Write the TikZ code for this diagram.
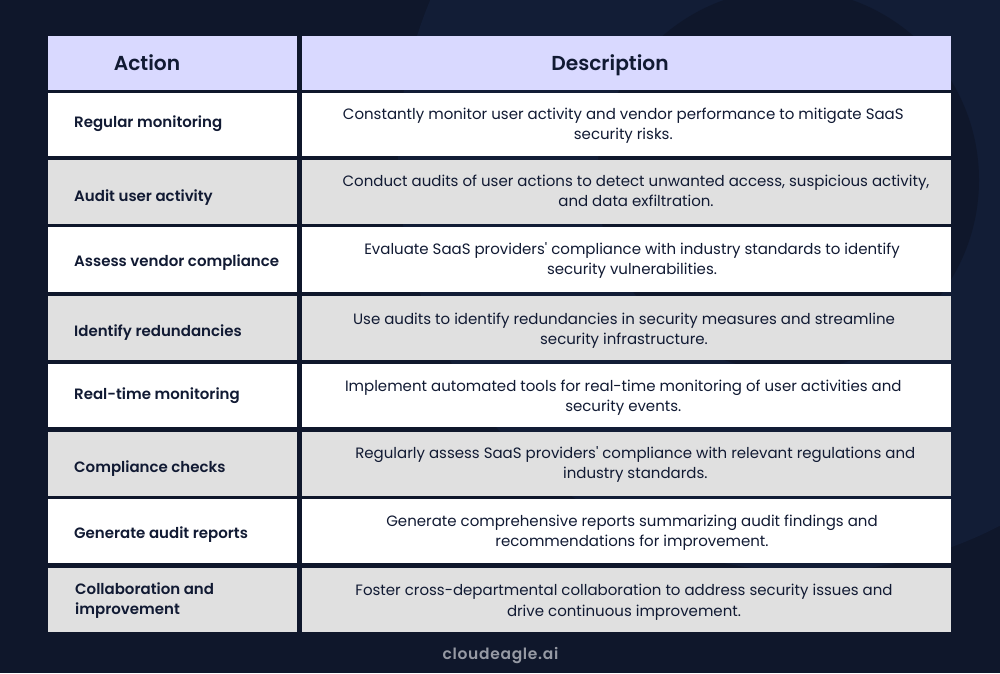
\documentclass[tikz,border=0pt]{standalone}
\usepackage{fontspec}
\setmainfont{Poppins}
\newfontfamily\semifont{Poppins SemiBold}
\newfontfamily\brandfont[LetterSpace=4.5]{Poppins SemiBold}
\usepackage{xcolor}
\definecolor{pagebg}{HTML}{0F172B}
\definecolor{ringbg}{HTML}{121D36}
\definecolor{headbg}{HTML}{D9D9FF}
\definecolor{greybg}{HTML}{E0E0E0}
\definecolor{inkc}{HTML}{111A33}
\definecolor{brandc}{HTML}{969AA4}
\tikzset{
  cellw/.style={fill=white},
  cellg/.style={fill=greybg},
  cellh/.style={fill=headbg},
  evenbox/.style={inner sep=0, execute at begin node=\strut, execute at end node=\strut},
  headtxt/.style={evenbox, text=inkc, font=\semifont\fontsize{20.2}{25}\selectfont, yshift=-2pt},
  acttxt/.style={evenbox, text=inkc, font=\semifont\fontsize{15}{20}\selectfont, anchor=west, align=left, yshift=-1.5pt},
  desctxt/.style={evenbox, text=inkc, font=\fontsize{15}{20.2}\selectfont, align=center, yshift=-3.4pt},
}
\begin{document}
\begin{tikzpicture}[x=1pt,y=-1pt]
\fill[pagebg] (0,0) rectangle (1000,673);
\begin{scope}
\clip (0,0) rectangle (1000,673);
\fill[ringbg] (810,160) circle[radius=412];
\fill[pagebg] (788,180) circle[radius=191];
\end{scope}
% header
\fill[cellh] (48,36) rectangle (297,89.5);
\fill[cellh] (302,36) rectangle (951,89.5);
\node[headtxt] (action) at (147,63) {Action};
\node[headtxt] (description) at (610,63) {Description};
% rows
\foreach \ya/\yb/\st in {92.5/155.5/cellw,160/223.5/cellg,227/291.5/cellw,295.5/360/cellg,364/427/cellw,431.5/495.5/cellg,499/563/cellw,567.5/632/cellg} {
 \fill[\st] (48,\ya) rectangle (297,\yb);
 \fill[\st] (302,\ya) rectangle (951,\yb);
}
\node[acttxt] (act1) at (74,122) {Regular monitoring};
\node[acttxt] (act2) at (74,196) {Audit user activity};
\node[acttxt] (act3) at (74,261) {Assess vendor compliance};
\node[acttxt] (act4) at (74,331) {Identify redundancies};
\node[acttxt] (act5) at (74,394) {Real-time monitoring};
\node[acttxt] (act6) at (74,467) {Compliance checks};
\node[acttxt] (act7) at (74,533) {Generate audit reports};
\node[acttxt] (act8) at (75,600) {Collaboration and\\improvement};
\node[desctxt] (desc1) at (623.3,123) {Constantly monitor user activity and vendor performance to mitigate SaaS\\security risks.};
\node[desctxt] (desc2) at (636,190) {Conduct audits of user actions to detect unwanted access, suspicious activity,\\and data exfiltration.};
\node[desctxt] (desc3) at (632,258) {Evaluate SaaS providers\textquotesingle{} compliance with industry standards to identify\\security vulnerabilities.};
\node[desctxt] (desc4) at (624,328) {Use audits to identify redundancies in security measures and streamline\\security infrastructure.};
\node[desctxt] (desc5) at (623.3,395) {Implement automated tools for real-time monitoring of user activities and\\security events.};
\node[desctxt] (desc6) at (635.3,462) {Regularly assess SaaS providers\textquotesingle{} compliance with relevant regulations and\\industry standards.};
\node[desctxt] (desc7) at (632,530) {Generate comprehensive reports summarizing audit findings and\\recommendations for improvement.};
\node[desctxt] (desc8) at (624,600) {Foster cross-departmental collaboration to address security issues and\\drive continuous improvement.};
\node[evenbox, text=brandc, font=\brandfont\fontsize{15.5}{20}\selectfont] (brand) at (500.5,655) {cloudeagle.ai};
\end{tikzpicture}
\end{document}
